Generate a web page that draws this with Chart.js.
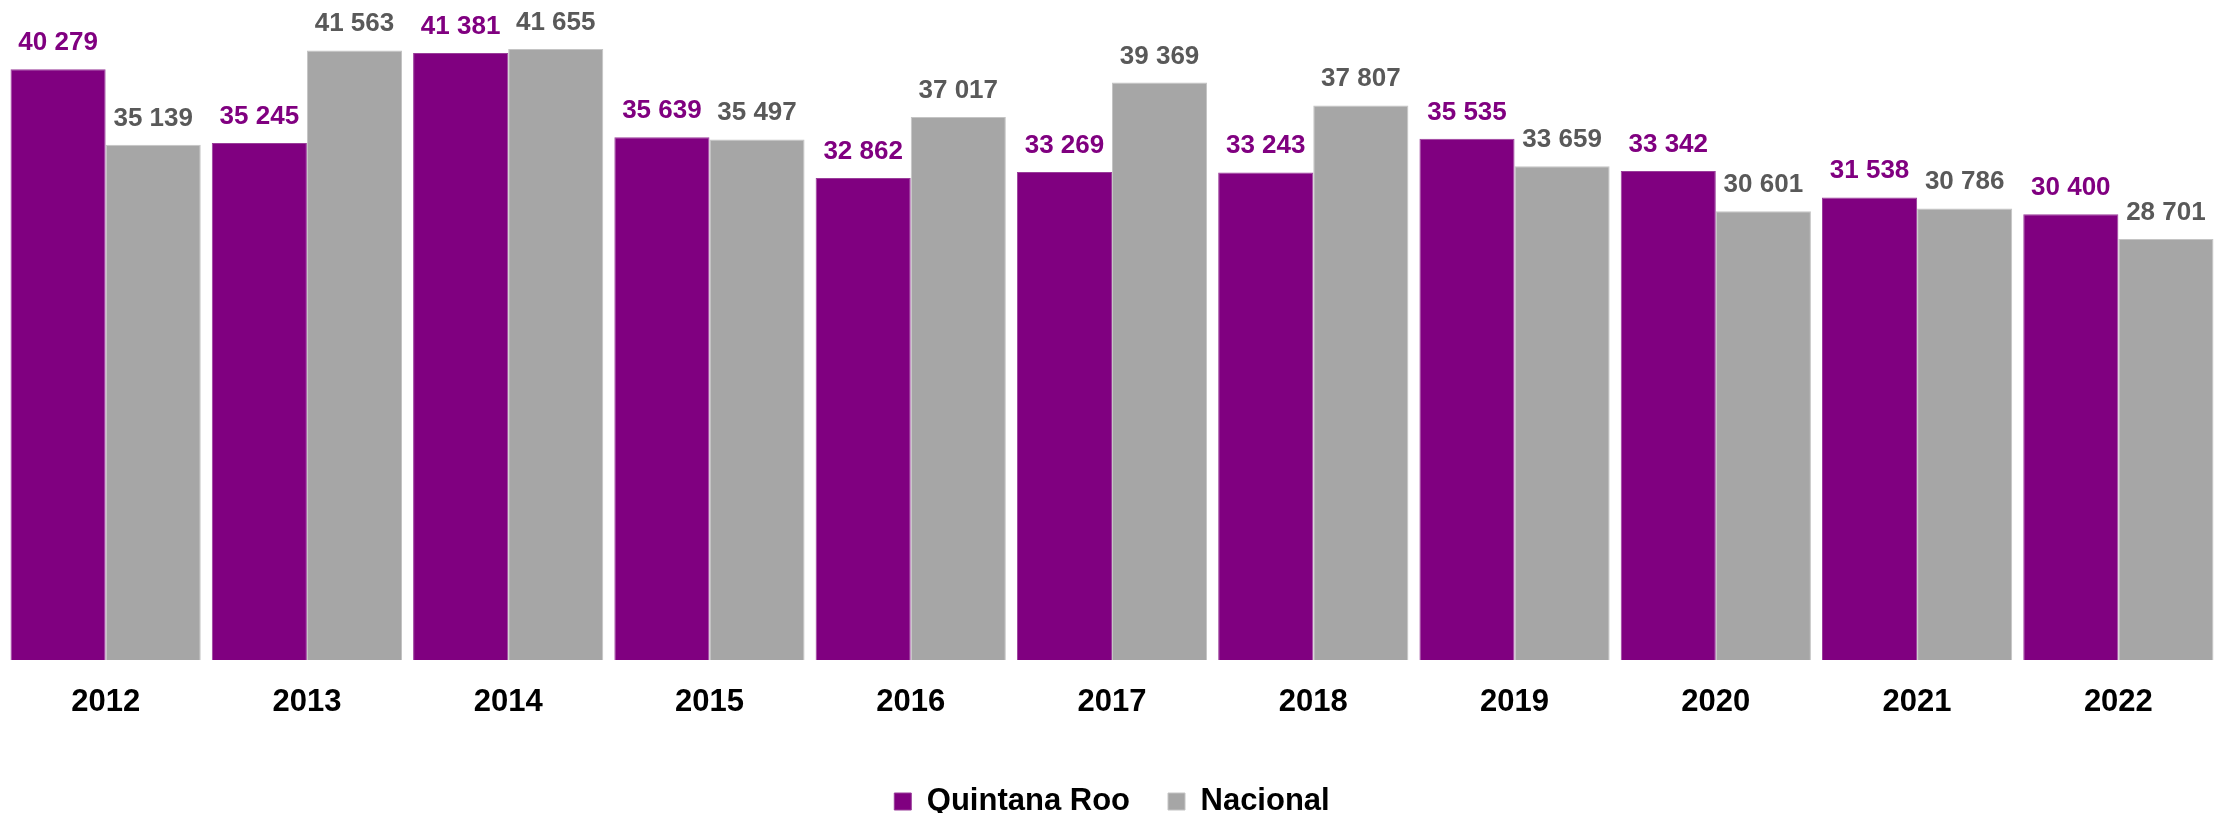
<!DOCTYPE html>
<html>
<head>
<meta charset="utf-8">
<script src="https://cdn.jsdelivr.net/npm/chart.js@4.4.0/dist/chart.umd.min.js"></script>
<style>
  html, body { margin: 0; padding: 0; background: #fff; }
  #wrap { width: 2226px; height: 813px; }
</style>
</head>
<body>
<div id="wrap"><canvas id="grafico"></canvas></div>
<script>
/* datos */
const years = ['2012', '2013', '2014', '2015', '2016', '2017', '2018', '2019', '2020', '2021', '2022'];
const quintanaRoo = [40279, 35245, 41381, 35639, 32862, 33269, 33243, 35535, 33342, 31538, 30400];
const nacional = [35139, 41563, 41655, 35497, 37017, 39369, 37807, 33659, 30601, 30786, 28701];
const seriesNames = ['Quintana Roo', 'Nacional'];

// etiquetas de valor encima de cada barra (sin plugin externo)
const valueLabels = {
    id: 'valueLabels',
    afterDatasetsDraw(chart) {
        const ctx = chart.ctx;
        ctx.save();
        ctx.font = 'bold 26px "Liberation Sans", Arial, sans-serif';
        ctx.textAlign = 'center';
        ctx.textBaseline = 'alphabetic';
        chart.data.datasets.forEach((ds, i) => {
            const meta = chart.getDatasetMeta(i);
            ctx.fillStyle = ds.labelColor;
            meta.data.forEach((bar, j) => {
                const v = ds.data[j];
                const txt = String(v).replace(/\B(?=(\d{3})+(?!\d))/g, ' ');
                ctx.fillText(txt, bar.x, bar.y - 19);
            });
        });
        ctx.restore();
    }
};

const grafico = document.getElementById('grafico').getContext('2d');
new Chart(grafico, {
    type: 'bar',
    data: {
        labels: years,
        datasets: [{
            label: seriesNames[0],
            data: quintanaRoo,
            backgroundColor: '#800080',
            borderColor: '#9a3d9a',
            borderWidth: 1,
            labelColor: '#800080',
            categoryPercentage: 0.945,
            barPercentage: 1.0
        }, {
            label: seriesNames[1],
            data: nacional,
            backgroundColor: '#A6A6A6',
            borderColor: '#c4c4c4',
            borderWidth: 1,
            labelColor: '#595959',
            categoryPercentage: 0.945,
            barPercentage: 1.0
        }]
    },
    options: {
        responsive: true,
        maintainAspectRatio: false,
        animation: false,
        layout: {
            padding: { left: 5, right: 7, top: 0, bottom: -14 }
        },
        plugins: {
            legend: {
                display: true,
                position: 'bottom',
                labels: {
                    boxWidth: 17,
                    boxHeight: 17,
                    padding: 38,
                    color: '#000',
                    font: { size: 31, weight: 'bold', family: '"Liberation Sans", Arial, sans-serif' }
                }
            },
            tooltip: { enabled: false }
        },
        scales: {
            x: {
                grid: { display: false, drawTicks: false },
                border: { display: false },
                ticks: {
                    padding: 24,
                    color: '#000',
                    font: { size: 31, weight: 'bold', family: '"Liberation Sans", Arial, sans-serif' }
                },
                afterFit(axis) { axis.height = 88; }
            },
            y: {
                display: false,
                min: 0,
                max: 45000
            }
        }
    },
    plugins: [valueLabels]
});
</script>
</body>
</html>
